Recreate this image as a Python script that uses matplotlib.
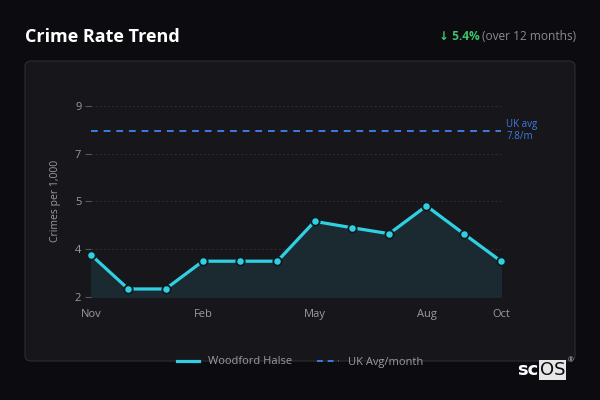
import matplotlib.pyplot as plt
from matplotlib.patches import FancyBboxPatch
from matplotlib.lines import Line2D
import numpy as np

plt.rcParams['font.family'] = ['Open Sans', 'DejaVu Sans']

# Data
months = ['Nov', 'Dec', 'Jan', 'Feb', 'Mar', 'Apr', 'May', 'Jun', 'Jul', 'Aug', 'Sep', 'Oct']
crime_rate = [3.46, 2.27, 2.27, 3.24, 3.24, 3.24, 4.63, 4.41, 4.20, 5.17, 4.20, 3.24]
uk_avg = 7.8
tick_months = ['Nov', 'Feb', 'May', 'Aug', 'Oct']
y_min, y_max = 2.0, 8.66

bg = '#0c0c10'
card = '#16161b'
cyan = '#2fd0e4'
blue = '#3f7be0'
grey = '#9a9aa2'

fig = plt.figure(figsize=(6, 4), dpi=100)
fig.patch.set_facecolor(bg)

# card panel
card_box = FancyBboxPatch((25 / 600, 1 - 361 / 400), 550 / 600, 300 / 400,
                          boxstyle='round,pad=0,rounding_size=0.012',
                          transform=fig.transFigure, facecolor=card,
                          edgecolor='#2c2c33', linewidth=0.8, zorder=-5)
fig.patches.append(card_box)

fig.text(25 / 600, 1 - 37 / 400, 'Crime Rate Trend', color='white', fontsize=13,
         fontweight='bold', va='center', ha='left')
fig.text(576 / 600, 1 - 37 / 400, '(over 12 months)', color='#8a8a92', fontsize=8.6,
         va='center', ha='right')
fig.text(480 / 600, 1 - 37 / 400, '\u2193 5.4%', color='#3cc46a', fontsize=8.6,
         fontweight='bold', va='center', ha='right')

ax = fig.add_axes([91 / 600, 1 - 296.7 / 400, 410 / 600, 190.7 / 400])
ax.set_facecolor('none')
x = np.arange(len(months))

ax.fill_between(x, crime_rate, y_min, color='#1b2d33', alpha=0.9, zorder=1)
ax.plot(x, crime_rate, color=cyan, linewidth=2.3, marker='o', markersize=6,
        markerfacecolor=cyan, markeredgecolor='#0e1a1e', markeredgewidth=1.3,
        zorder=3, clip_on=False)
ax.axhline(uk_avg, color=blue, linestyle=(0, (3.5, 3)), linewidth=1.4, zorder=2)
ax.text(len(months) - 1 + 0.14, uk_avg, 'UK avg\n7.8/m', color=blue, fontsize=7,
        va='center', ha='left', linespacing=1.05)

yticks = np.linspace(y_min, y_max, 5)
ax.set_yticks(yticks)
ax.set_yticklabels([f'{v:.0f}' for v in yticks])
ax.set_ylim(y_min, y_max)
ax.set_xlim(0, len(months) - 1)
ax.set_xticks([months.index(m) for m in tick_months])
ax.set_xticklabels(tick_months)

for v in yticks[1:]:
    ax.axhline(v, color='#34343b', linestyle=(0, (2, 3)), linewidth=0.6, zorder=0)

for s in ax.spines.values():
    s.set_visible(False)
ax.tick_params(axis='y', colors='#55555c', labelcolor=grey, labelsize=8, length=4, width=0.8, pad=3)
ax.tick_params(axis='x', length=0, labelcolor=grey, labelsize=8, pad=9)
ax.set_ylabel('Crimes per 1,000', color=grey, fontsize=7.5, labelpad=10)

handles = [Line2D([], [], color=cyan, linewidth=2.3),
           Line2D([], [], color=blue, linewidth=1.4, linestyle=(0, (3, 2.5)))]
fig.legend(handles, ['Woodford Halse', 'UK Avg/month'], loc='center',
           bbox_to_anchor=(300 / 600, 1 - 362 / 400), ncol=2, frameon=False,
           fontsize=8, labelcolor=grey, handlelength=2.0, columnspacing=2.2)

# logo
fig.text(517 / 600, 1 - 370 / 400, 'sc', color='white', fontsize=13,
         fontweight='bold', va='center', ha='left', family=['DejaVu Sans'])
fig.text(540 / 600, 1 - 370 / 400, 'OS', color='#0c0c10', fontsize=13,
         va='center', ha='left', family=['DejaVu Sans'],
         bbox=dict(boxstyle='square,pad=0.05', facecolor='#e6e6e6', edgecolor='none'))
fig.text(568 / 600, 1 - 361 / 400, '\u00ae', color='#cccccc', fontsize=5,
         va='center', ha='left')

fig.savefig('out.png', dpi=100, facecolor=bg)
